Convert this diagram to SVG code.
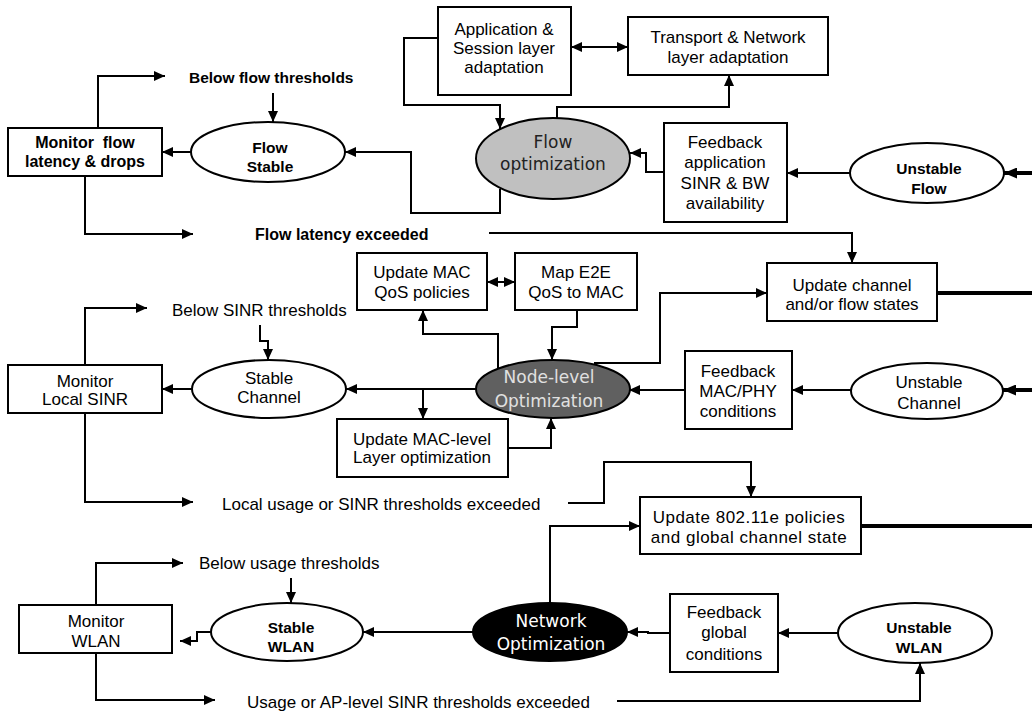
<svg xmlns="http://www.w3.org/2000/svg" width="1032" height="713" viewBox="0 0 1032 713">
<defs>
<marker id="ah" markerWidth="11" markerHeight="10" refX="11" refY="5" orient="auto-start-reverse" markerUnits="userSpaceOnUse"><path d="M0,0 L11,5 L0,10 z" fill="#000"/></marker>
<marker id="ahb" markerWidth="13" markerHeight="11" refX="13" refY="5.5" orient="auto" markerUnits="userSpaceOnUse"><path d="M0,0 L13,5.5 L0,11 z" fill="#000"/></marker>
</defs>
<style>
rect, ellipse.n { fill: #fff; stroke: #000; stroke-width: 2; }
ellipse { stroke: #000; stroke-width: 2; }
.c path { fill: none; stroke: #000; stroke-width: 2; }
.c path.a { marker-end: url(#ah); }
.c path.d { marker-start: url(#ah); marker-end: url(#ah); }
.c path.t { stroke-width: 4; }
.c path.tb { stroke-width: 4; marker-end: url(#ahb); }
text { font-family: "Liberation Sans", Arial, sans-serif; font-size: 17px; }
text.m { text-anchor: middle; }
text.b { font-weight: bold; font-size: 15.5px; }
text.b16 { font-weight: bold; font-size: 16px; }
text.v { font-family: "DejaVu Sans", Verdana, sans-serif; }
.fw { fill: #fff; }
.fl { fill: #e0e0e0; }
.fd { fill: #222; }
</style>

<g id="connectors" class="c">
<!-- top -->
<path class="a" d="M438,38 H404 V105 H500 V129"/>
<path class="d" d="M571,47 H628"/>
<path class="a" d="M557,118 V107 H729 V75"/>
<path class="a" d="M664,172 H646 V153 H630"/>
<path class="a" d="M851,173 H787"/>
<path class="tb" d="M1032,173 H1004"/>
<path class="a" d="M500,189 V213 H411 V152 H345"/>
<path class="a" d="M192,152 H162"/>
<path class="a" d="M98,128 V76 H165"/>
<path class="a" d="M273,93 V122"/>
<path class="a" d="M85,176 V234 H193"/>
<path class="a" d="M489,233 H852 V263"/>
<path class="t" d="M937,293 H1032"/>
<!-- middle -->
<path class="a" d="M594,363 H660 V293 H767"/>
<path class="d" d="M487,282 H515"/>
<path class="a" d="M577,310 V327 H552 V360"/>
<path class="a" d="M498,369 V334 H423 V310"/>
<path class="a" d="M476,389 H346"/>
<path class="a" d="M423,389 V419"/>
<path class="a" d="M508,448 H551 V418"/>
<path class="a" d="M192,389 H162"/>
<path class="a" d="M85,365 V308 H147"/>
<path class="a" d="M260,325 V341 H268 V360"/>
<path class="a" d="M85,413 V502 H193"/>
<path class="a" d="M568,503 H604 V462 H751 V497"/>
<path class="a" d="M685,390 H629"/>
<path class="a" d="M851,390 H792"/>
<path class="tb" d="M1032,390 H1003"/>
<!-- bottom -->
<path class="t" d="M861,526 H1032"/>
<path class="a" d="M550,603 V526 H640"/>
<path class="a" d="M473,632 H363"/>
<path class="a" d="M211,632 H197 V641 H180"/>
<path class="a" d="M96,605 V563 H183"/>
<path class="a" d="M291,578 V603"/>
<path class="a" d="M96,653 V700 H215"/>
<path class="a" d="M617,701 H920 V663"/>
<path class="a" d="M670,633 H648 V632 H627"/>
<path class="a" d="M839,633 H778"/>
</g>

<!-- free labels -->
<g id="labels">
<text class="b" x="189" y="83">Below flow thresholds</text>
<text class="b16" x="255" y="240">Flow latency exceeded</text>
<text x="172" y="316">Below SINR thresholds</text>
<text x="222" y="510">Local usage or SINR thresholds exceeded</text>
<text x="199" y="569">Below usage thresholds</text>
<text x="247" y="708">Usage or AP-level SINR thresholds exceeded</text>
</g>

<!-- top row -->
<g id="monitor-flow">
<rect x="8" y="128" width="154" height="48"/>
<text class="m b16" x="85" y="148" xml:space="preserve">Monitor  flow</text>
<text class="m b16" x="85" y="167">latency &amp; drops</text>
</g>
<g id="flow-stable">
<ellipse class="n" cx="268" cy="152" rx="77" ry="30"/>
<text class="m b" x="270" y="153">Flow</text>
<text class="m b" x="270" y="172">Stable</text>
</g>
<g id="app-session">
<rect x="438" y="7" width="133" height="88"/>
<text class="m" x="504" y="35">Application &amp;</text>
<text class="m" x="504" y="54">Session layer</text>
<text class="m" x="504" y="73">adaptation</text>
</g>
<g id="transport-network">
<rect x="628" y="17" width="200" height="58"/>
<text class="m" x="728" y="43">Transport &amp; Network</text>
<text class="m" x="728" y="63">layer adaptation</text>
</g>
<g id="flow-optimization">
<ellipse cx="553" cy="158.5" rx="77" ry="40.5" fill="#c0c0c0"/>
<text class="m v fd" x="553" y="148" font-size="17.5">Flow</text>
<text class="m v fd" x="553" y="170" font-size="17.5">optimization</text>
</g>
<g id="feedback-app">
<rect x="664" y="123" width="123" height="99"/>
<text class="m" x="725" y="148">Feedback</text>
<text class="m" x="725" y="168">application</text>
<text class="m" x="725" y="189">SINR &amp; BW</text>
<text class="m" x="725" y="209">availability</text>
</g>
<g id="unstable-flow">
<ellipse class="n" cx="927" cy="173" rx="77" ry="30"/>
<text class="m b" x="929" y="174">Unstable</text>
<text class="m b" x="929" y="194">Flow</text>
</g>
<g id="update-channel-flow">
<rect x="767" y="263" width="170" height="58"/>
<text class="m" x="852" y="291">Update channel</text>
<text class="m" x="852" y="310">and/or flow states</text>
</g>

<!-- middle row -->
<g id="update-mac-qos">
<rect x="357" y="253" width="130" height="57"/>
<text class="m" x="422" y="278">Update MAC</text>
<text class="m" x="422" y="298">QoS policies</text>
</g>
<g id="map-e2e">
<rect x="515" y="253" width="122" height="57"/>
<text class="m" x="576" y="278">Map E2E</text>
<text class="m" x="576" y="298">QoS to MAC</text>
</g>
<g id="monitor-sinr">
<rect x="8" y="365" width="154" height="48"/>
<text class="m" x="85" y="387">Monitor</text>
<text class="m" x="85" y="405">Local SINR</text>
</g>
<g id="stable-channel">
<ellipse class="n" cx="269" cy="389" rx="77" ry="29"/>
<text class="m" x="269" y="384">Stable</text>
<text class="m" x="269" y="403">Channel</text>
</g>
<g id="node-level">
<ellipse cx="553" cy="389" rx="77" ry="29" fill="#606060"/>
<text class="m v fl" x="549" y="383" font-size="17">Node-level</text>
<text class="m v fl" x="549" y="407" font-size="17">Optimization</text>
</g>
<g id="update-mac-level">
<rect x="337" y="419" width="171" height="58"/>
<text class="m" x="422" y="445">Update MAC-level</text>
<text class="m" x="422" y="463">Layer optimization</text>
</g>
<g id="feedback-mac">
<rect x="685" y="351" width="107" height="78"/>
<text class="m" x="738" y="377">Feedback</text>
<text class="m" x="738" y="397">MAC/PHY</text>
<text class="m" x="738" y="417">conditions</text>
</g>
<g id="unstable-channel">
<ellipse class="n" cx="927" cy="391" rx="76" ry="28"/>
<text class="m" x="929" y="388">Unstable</text>
<text class="m" x="929" y="409">Channel</text>
</g>

<!-- bottom row -->
<g id="update-80211e">
<rect x="640" y="497" width="221" height="57"/>
<text class="m" x="749" y="523" font-size="16" letter-spacing="0.5">Update 802.11e policies</text>
<text class="m" x="749" y="543" font-size="16" letter-spacing="0.5">and global channel state</text>
</g>
<g id="monitor-wlan">
<rect x="19" y="605" width="153" height="48"/>
<text class="m" x="96" y="627">Monitor</text>
<text class="m" x="96" y="647">WLAN</text>
</g>
<g id="stable-wlan">
<ellipse class="n" cx="287" cy="632" rx="76" ry="29"/>
<text class="m b" x="291" y="633">Stable</text>
<text class="m b" x="291" y="652">WLAN</text>
</g>
<g id="network-optimization">
<ellipse cx="550" cy="632" rx="77" ry="29" fill="#000"/>
<text class="m v fw" x="551" y="627" font-size="16.5">Network</text>
<text class="m v fw" x="551" y="650" font-size="16.5">Optimization</text>
</g>
<g id="feedback-global">
<rect x="670" y="594" width="108" height="78"/>
<text class="m" x="724" y="618">Feedback</text>
<text class="m" x="724" y="638">global</text>
<text class="m" x="724" y="660">conditions</text>
</g>
<g id="unstable-wlan">
<ellipse class="n" cx="915" cy="633" rx="77" ry="30"/>
<text class="m b" x="919" y="633">Unstable</text>
<text class="m b" x="919" y="653">WLAN</text>
</g>
</svg>
